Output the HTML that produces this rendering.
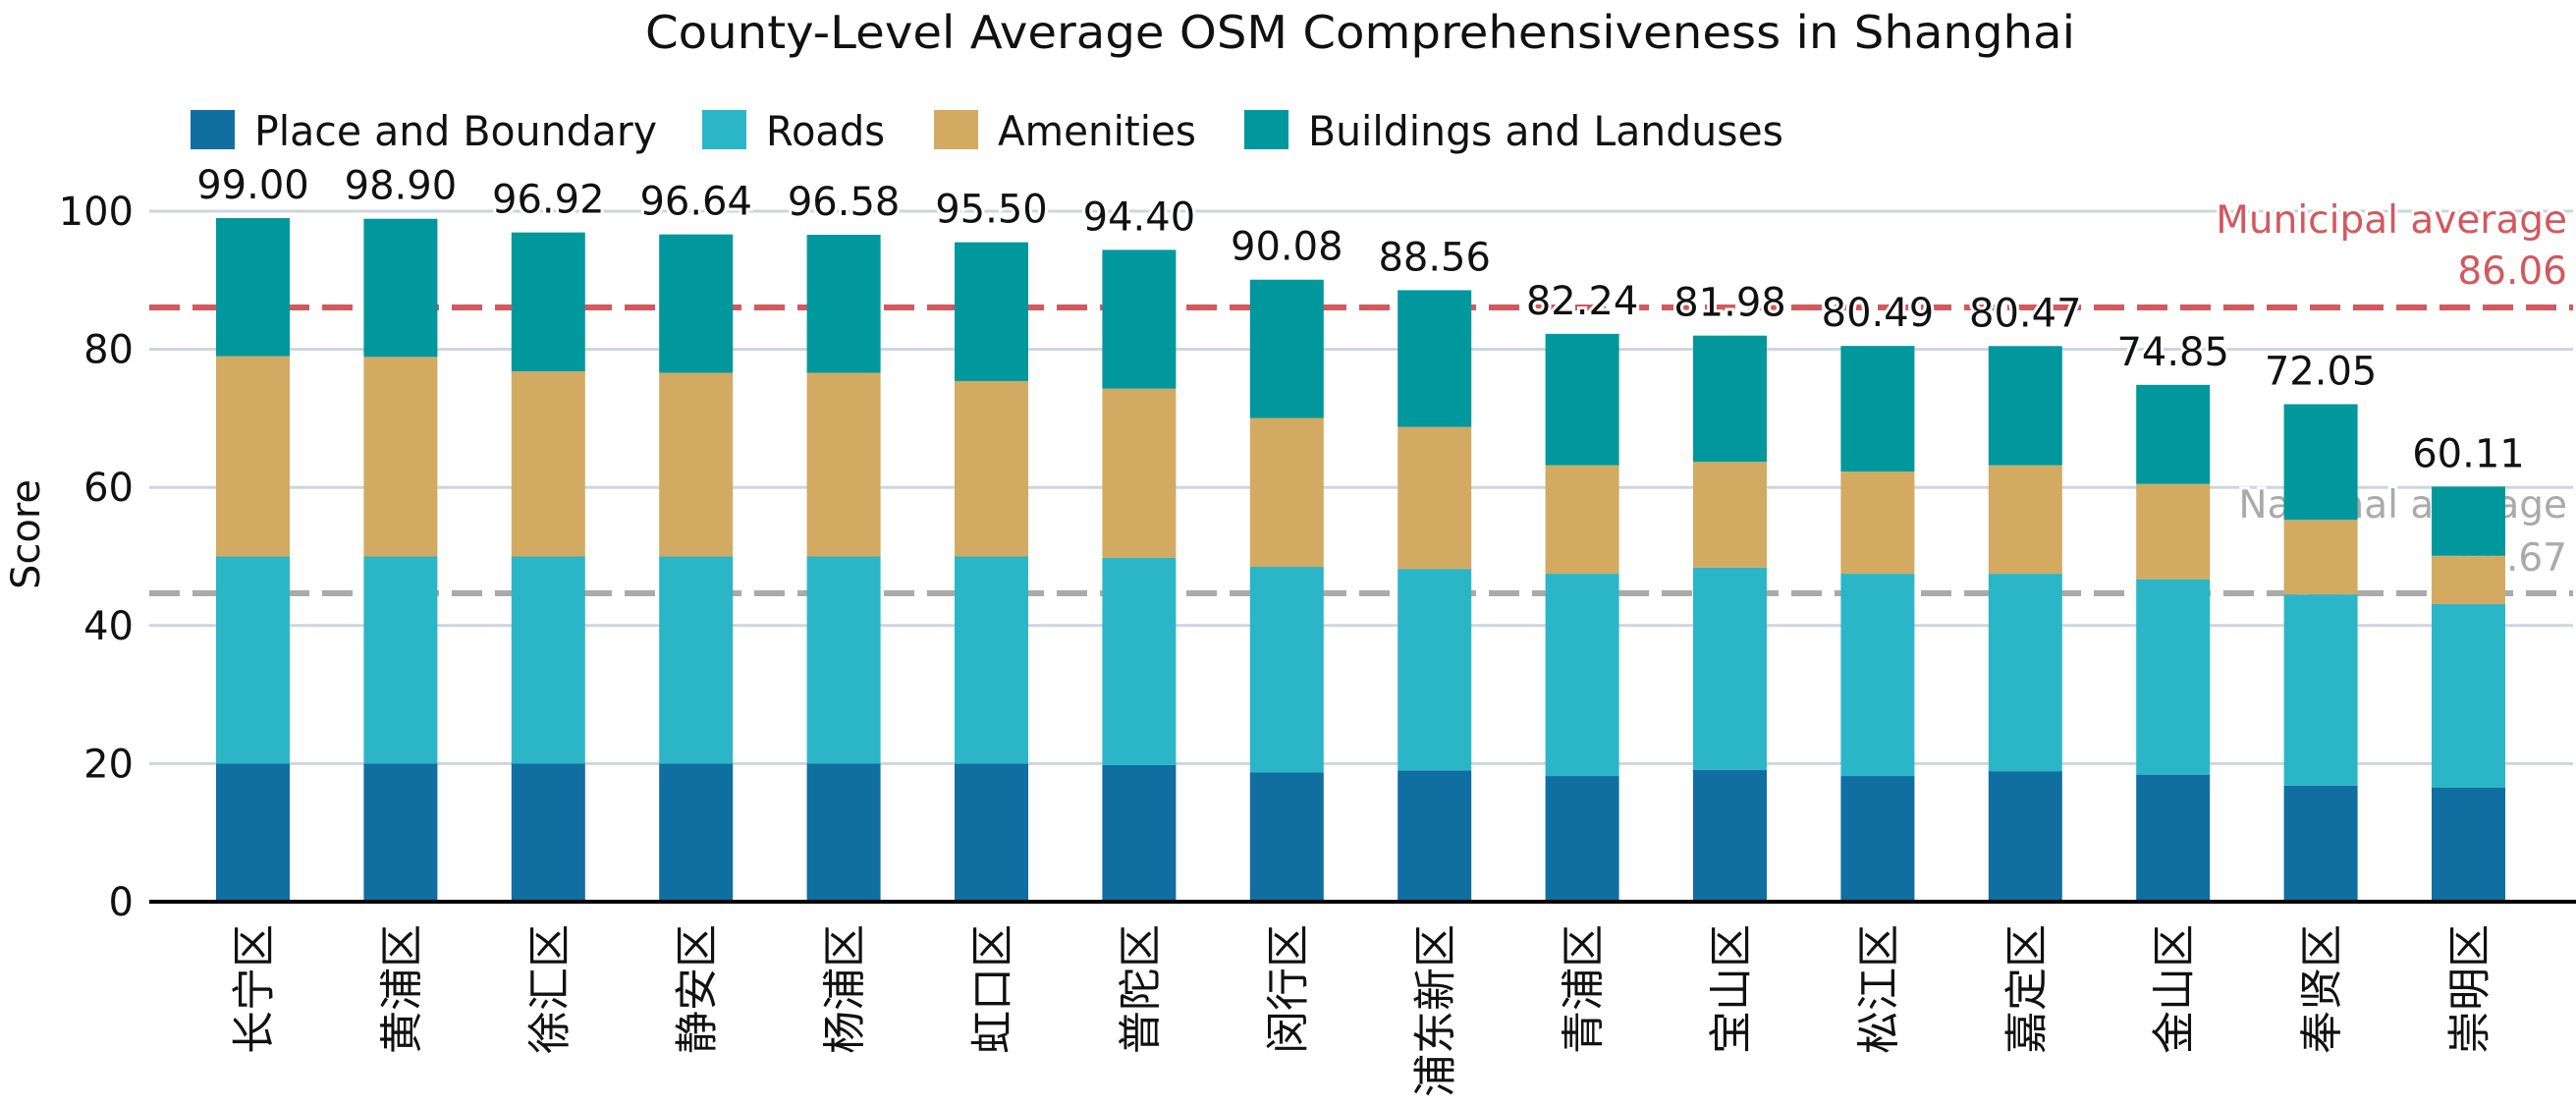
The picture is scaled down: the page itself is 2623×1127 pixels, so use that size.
<!DOCTYPE html>
<html><head><meta charset="utf-8"><style>
html,body{margin:0;padding:0;background:#fff;}
svg text{font-family:"DejaVu Sans","Liberation Sans","Noto Sans CJK SC",sans-serif;}
</style></head><body>
<svg id="chart" width="2623" height="1122" viewBox="0 0 2623 1122" xmlns="http://www.w3.org/2000/svg">
<text x="1385" y="49" text-anchor="middle" font-size="46" textLength="1456" lengthAdjust="spacingAndGlyphs" fill="#111">County-Level Average OSM Comprehensiveness in Shanghai</text>
<g id="legend"></g>
<g id="grid"></g>
<g id="refs"></g>
<g id="bars"></g>
<g id="labels"></g>
<g id="xaxis"></g>
<g id="yaxis"></g>
<text transform="translate(40,544) rotate(-90)" text-anchor="middle" font-size="40" fill="#111">Score</text>
</svg>
<script>
const categories = ["长宁区","黄浦区","徐汇区","静安区","杨浦区","虹口区","普陀区","闵行区","浦东新区","青浦区","宝山区","松江区","嘉定区","金山区","奉贤区","崇明区"];
const totals = [99.00,98.90,96.92,96.64,96.58,95.50,94.40,90.08,88.56,82.24,81.98,80.49,80.47,74.85,72.05,60.11];
const placeVals = [20,20,20,20,20,20,19.8,18.7,19.0,18.2,19.1,18.2,18.9,18.4,16.8,16.5];
const roadsVals = [30,30,30,30,30,30,30,29.8,29.2,29.3,29.3,29.3,28.6,28.3,27.7,26.6];
const amenVals = [29,28.9,26.8,26.6,26.6,25.4,24.5,21.55,20.55,15.7,15.3,14.8,15.7,13.8,10.8,7.0];
const legendLabels = ["Place and Boundary","Roads","Amenities","Buildings and Landuses"];
const yTicks = [0,20,40,60,80,100];
const municipalAvg = 86.06;
const nationalAvg = 44.67;

const NS="http://www.w3.org/2000/svg";
const colors=["#106ea0","#2bb6c8","#d3aa62","#00989c"];
const X0=152, X1=2620, Y0=918, Y100=215;
const y=v=>Y0-(v/100)*(Y0-Y100);
const step=150.4, bw=75;
const xc=i=>257.5+i*step;
function mk(tag,attrs,parent){const e=document.createElementNS(NS,tag);for(const k in attrs)e.setAttribute(k,attrs[k]);parent.appendChild(e);return e;}
const g=id=>document.getElementById(id);

const legX=[194,715,951,1267], legW=[410,121,202,484];
legendLabels.forEach((l,i)=>{
  const r=mk('rect',{x:legX[i],y:112,width:45,height:40,fill:colors[i]},g('legend'));
  
  
  const t=mk('text',{x:legX[i]+65,y:148,'font-size':42,fill:'#111',textLength:legW[i],lengthAdjust:'spacingAndGlyphs'},g('legend'));
  t.textContent=l;
  
  
});

yTicks.forEach(v=>{
  if(v>0){const ln=mk('line',{x1:X0,x2:X1,y1:y(v),y2:y(v),stroke:'#cdd5dd','stroke-width':3},g('grid'));
  
  }
  const t=mk('text',{x:136,y:y(v)+14,'text-anchor':'end','font-size':40,fill:'#111'},g('yaxis'));
  t.textContent=v;
  
  
});

function refLine(v,col,l1,l2,b1,b2,name){
  const ln=mk('line',{x1:X0,x2:X1,y1:y(v),y2:y(v),stroke:col,'stroke-width':6,'stroke-dasharray':'31 13'},g('refs'));
  
  
  const t1=mk('text',{x:2614,y:b1,'text-anchor':'end','font-size':39,fill:col,stroke:'#fff','stroke-width':6,'paint-order':'stroke'},g('refs'));
  t1.textContent=l1;
  
  
  const t2=mk('text',{x:2614,y:b2,'text-anchor':'end','font-size':39,fill:col,stroke:'#fff','stroke-width':6,'paint-order':'stroke'},g('refs'));
  t2.textContent=l2;
  
  
}
refLine(nationalAvg,'#aaaaaa','National average',nationalAvg.toFixed(2),527,581,'national-average');
refLine(municipalAvg,'#d2595e','Municipal average',municipalAvg.toFixed(2),237,289,'municipal-average');

categories.forEach((c,i)=>{
  const segs=[placeVals[i],roadsVals[i],amenVals[i]];
  segs.push(totals[i]-segs[0]-segs[1]-segs[2]);
  let base=0;
  segs.forEach((s,k)=>{
    const r=mk('rect',{x:xc(i)-bw/2,y:y(base+s),width:bw,height:y(base)-y(base+s),fill:colors[k]},g('bars'));
    
    
    base+=s;
  });
  const t=mk('text',{x:xc(i),y:y(totals[i])-20,'text-anchor':'middle','font-size':40,fill:'#111',stroke:'#fff','stroke-width':6,'paint-order':'stroke'},g('labels'));
  t.textContent=totals[i].toFixed(2);
  
  
  const xl=mk('text',{transform:`translate(${xc(i)+16},941) rotate(-90)`,'text-anchor':'end','font-size':44,fill:'#111','font-family':'"Noto Sans CJK SC",sans-serif'},g('xaxis'));
  xl.textContent=c;
  
  
});
const ax=mk('line',{x1:X0,x2:2623,y1:Y0,y2:Y0,stroke:'#000','stroke-width':4},g('xaxis'));


</script>
</body></html>
